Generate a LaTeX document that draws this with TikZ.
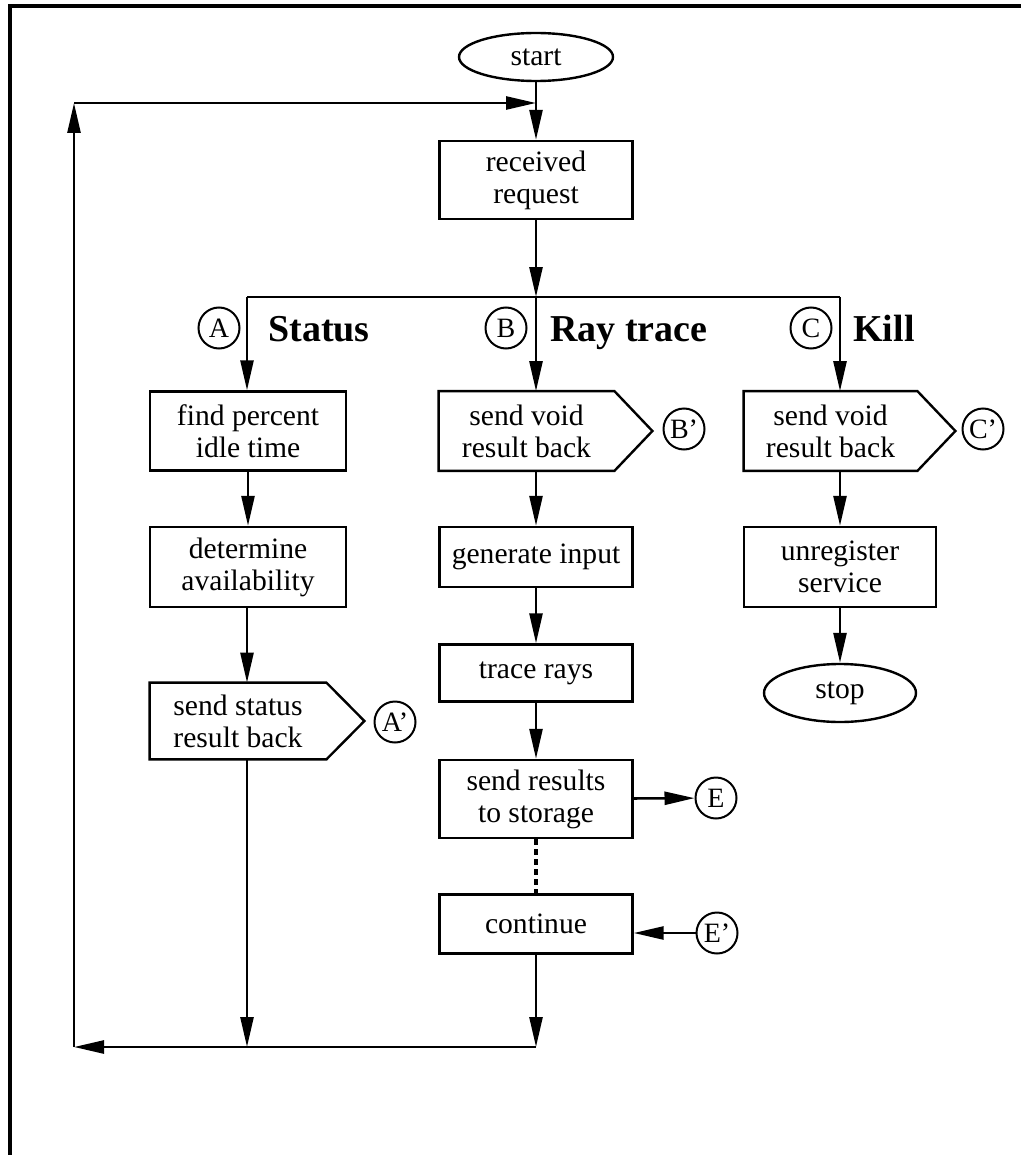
\documentclass[tikz,border=0pt]{standalone}
\usepackage{fontspec}
\setmainfont{Liberation Serif}
\usetikzlibrary{arrows.meta,calc,shapes.geometric}

\begin{document}
\begin{tikzpicture}[
    x=0.5pt, y=-0.5pt,
    >={Triangle[length=15pt,width=6.5pt]},
    font=\fontsize{14.8}{16}\selectfont,
    stepbox/.style={draw, line width=1.2pt, minimum width=96.5pt, minimum height=39pt, align=center, inner sep=2pt},
    pentbox/.style={minimum width=87.5pt, minimum height=39.5pt, align=center, inner sep=2pt},
    pentline/.style={draw, line width=1.2pt, line join=miter},
    terminal/.style={draw, ellipse, line width=1.2pt, minimum width=77pt, minimum height=24pt, inner sep=1pt},
    tag/.style={draw, circle, line width=1pt, minimum size=20.5pt, inner sep=0pt, font=\fontsize{14}{14}\selectfont},
    branch/.style={anchor=base west, inner sep=0pt, font=\bfseries\fontsize{19}{20}\selectfont},
    flow/.style={->, line width=1.3pt},
    wire/.style={line width=1.3pt},
    dotline/.style={line width=1.6pt, dash pattern=on 3pt off 2pt},
    frame/.style={line width=2pt}
]
\useasboundingbox (0,0) rectangle (1021,1155);
\fill[white] (0,0) rectangle (1021,1155);
\draw[frame] (10,1155) -- (10,6) -- (1021,6);

% Entry
\node[terminal] (start) at (536,57) {start};
\coordinate (loopin) at (536,103);
\node[stepbox] (recv) at (536,180) {received\\request};

% Branch line and labels
\coordinate (brA) at (247,297);
\coordinate (brB) at (536,297);
\coordinate (brC) at (840,297);
\node[tag] (tagA) at (219,328) {A};
\node[branch] (labA) at (268,341) {Status};
\node[tag] (tagB) at (506,328) {B};
\node[branch] (labB) at (550,341) {Ray trace};
\node[tag] (tagC) at (811,328) {C};
\node[branch] (labC) at (853,341) {Kill};

% Status column
\node[stepbox, minimum width=98pt, minimum height=39.5pt] (idle) at (248,431) {find percent\\idle time};
\node[stepbox, minimum width=98pt, minimum height=40pt] (avail) at (248,567) {determine\\availability};
\node[pentbox, minimum width=88pt, minimum height=38pt] (status) at (238,721) {send status\\result back};
\node[tag] (tagAp) at (395,722) {A'};

% Ray trace column
\node[pentbox] (voidB) at (526.5,431) {send void\\result back};
\node[tag] (tagBp) at (684,429) {B'};
\node[stepbox, minimum height=30pt] (geninp) at (536,557) {generate input};
\node[stepbox, minimum height=28.5pt] (trace) at (536,673) {trace rays};
\node[stepbox] (store) at (536,799) {send results\\to storage};
\node[tag] (tagE) at (716,798) {E};
\node[stepbox, minimum height=29.5pt] (cont) at (536,924) {continue};
\node[tag] (tagEp) at (717,933) {E'};

% Kill column
\node[pentbox, minimum width=86.5pt] (voidC) at (830.5,431) {send void\\result back};
\node[tag] (tagCp) at (983,429) {C'};
\node[stepbox, minimum width=96pt, minimum height=40pt] (unreg) at (840,567) {unregister\\service};
\node[terminal, minimum width=76pt, minimum height=29pt] (stop) at (840,693) {stop};

% Pointed boxes
\foreach \p in {status,voidB,voidC}
  \draw[pentline] (\p.north west) -- (\p.north east) -- ($(\p.east)+(38,0)$) -- (\p.south east) -- (\p.south west) -- cycle;

% Return loop
\coordinate (retA) at (247,1047);
\coordinate (retB) at (536,1047);
\coordinate (retL) at (74,1047);
\coordinate (retT) at (74,103);

% Connectors
\draw[wire] (start) -- (loopin);
\draw[flow] (loopin) -- (recv);
\draw[flow] (recv) -- (brB);
\draw[wire] (brA) -- (brC);
\draw[flow] (brA) -- (brA |- idle.north);
\draw[flow] (brB) -- (brB |- voidB.north);
\draw[flow] (brC) -- (brC |- voidC.north);

\draw[flow] (idle) -- (avail);
\draw[flow] (brA |- avail.south) -- (brA |- status.north);
\draw[flow] (brA |- status.south) -- (retA);

\draw[flow] (brB |- voidB.south) -- (geninp);
\draw[flow] (geninp) -- (trace);
\draw[flow] (trace) -- (store);
\draw[flow] (store) -- (tagE);
\draw[dotline] (store) -- (cont);
\draw[flow] (tagEp) -- (tagEp -| cont.east);
\draw[flow] (cont) -- (retB);

\draw[flow] (brC |- voidC.south) -- (unreg);
\draw[flow] (unreg) -- (stop);

\draw[flow] (retB) -- (retL);
\draw[flow] (retL) -- (retT);
\draw[flow] (retT) -- (loopin);

\end{tikzpicture}
\end{document}
